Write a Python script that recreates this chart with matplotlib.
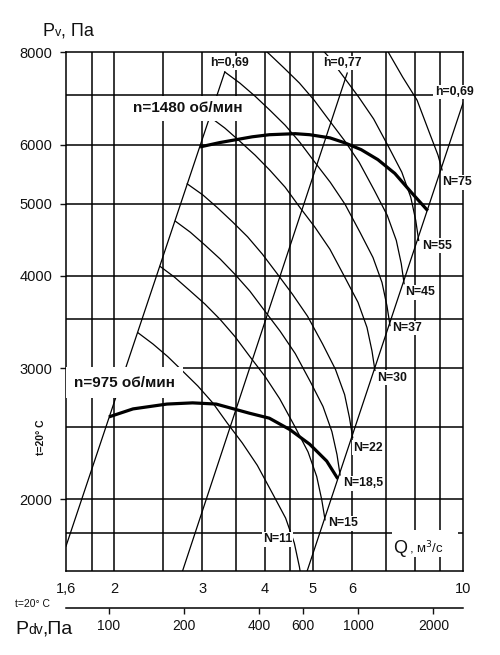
import matplotlib

matplotlib.use("Agg")

import matplotlib.pyplot as plt
from matplotlib.patches import Rectangle
from matplotlib.ticker import NullLocator

plt.rcParams["font.family"] = ["Liberation Sans", "DejaVu Sans"]

# axis ranges, grid and tick values
q_range = (1.6, 10.0)
p_range = (1600, 8000)
q_grid = [1.8, 2, 2.5, 3, 3.5, 4, 4.5, 5, 6, 7, 8, 9]
p_grid = [1800, 2000, 2500, 3000, 3500, 4000, 5000, 6000, 7000]
q_ticks = [1.6, 2, 3, 4, 5, 6, 10]
q_tick_labels = ["1,6", "2", "3", "4", "5", "6", "10"]
p_ticks = [2000, 3000, 4000, 5000, 6000, 8000]
pdv_ticks = [100, 200, 400, 600, 1000, 2000]
pdv_coef = 26.3  # dynamic pressure Pdv = coef * Q^2

# fan characteristics (thick)
q_1480 = [2.97, 3.25, 3.78, 4.09, 4.61, 4.93, 5.41, 5.78, 6.25, 6.75, 7.30, 7.89, 8.50]
p_1480 = [5960, 6040, 6150, 6190, 6210, 6190, 6130, 6040, 5910, 5730, 5490, 5170, 4890]
q_975 = [1.95, 2.18, 2.55, 2.87, 3.20, 3.73, 4.09, 4.50, 4.93, 5.33, 5.61]
p_975 = [2580, 2645, 2685, 2695, 2685, 2610, 2570, 2480, 2370, 2250, 2130]

# efficiency boundary lines
q_eta_left = [1.60, 3.33]
p_eta_left = [1728, 7520]
q_eta_mid = [2.74, 5.86]
p_eta_mid = [1600, 7495]
q_eta_right = [4.87, 10.0]
p_eta_right = [1600, 6830]

# constant power curves
q_n75 = [7.08, 7.57, 8.09, 8.57, 8.91, 9.08]
p_n75 = [8000, 7400, 6890, 6220, 5810, 5550]
q_n55 = [5.02, 5.38, 5.77, 6.18, 6.62, 7.10, 7.54, 7.86, 8.04, 8.15]
p_n55 = [8300, 7880, 7400, 6955, 6500, 5955, 5510, 5095, 4745, 4460]
q_n45 = [3.81, 4.09, 4.38, 4.70, 5.03, 5.39, 5.78, 6.19, 6.64, 7.05, 7.35, 7.52, 7.62]
p_n45 = [8280, 7950, 7610, 7265, 6890, 6475, 6085, 5685, 5210, 4820, 4460, 4150, 3900]
q_n37 = [3.33, 3.57, 3.83, 4.10, 4.40, 4.71, 5.05, 5.42, 5.80, 6.22, 6.60, 6.88, 7.04, 7.14]
p_n37 = [7520, 7265, 6975, 6680, 6375, 6045, 5680, 5340, 4990, 4570, 4230, 3915, 3640, 3425]
q_n30 = [3.11, 3.33, 3.57, 3.83, 4.10, 4.40, 4.71, 5.05, 5.41, 5.80, 6.16, 6.42, 6.57, 6.66]
p_n30 = [6540, 6320, 6065, 5810, 5545, 5260, 4940, 4645, 4340, 3975, 3680, 3405, 3165, 2980]
q_n22 = [2.80, 3.01, 3.22, 3.45, 3.70, 3.96, 4.25, 4.55, 4.88, 5.23, 5.55, 5.79, 5.92, 6.01]
p_n22 = [5315, 5135, 4935, 4725, 4510, 4275, 4015, 3775, 3525, 3235, 2990, 2765, 2575, 2420]
q_n18 = [2.65, 2.84, 3.04, 3.26, 3.49, 3.74, 4.01, 4.30, 4.61, 4.94, 5.24, 5.46, 5.59, 5.67]
p_n18 = [4735, 4575, 4395, 4210, 4015, 3810, 3580, 3365, 3140, 2880, 2665, 2465, 2295, 2155]
q_n15 = [2.47, 2.64, 2.83, 3.04, 3.26, 3.49, 3.74, 4.01, 4.29, 4.60, 4.89, 5.09, 5.21, 5.29]
p_n15 = [4115, 3980, 3820, 3660, 3490, 3310, 3110, 2925, 2730, 2505, 2315, 2145, 1995, 1875]
q_n11 = [2.23, 2.39, 2.56, 2.74, 2.94, 3.15, 3.37, 3.61, 3.87, 4.15, 4.41, 4.59, 4.70, 4.77]
p_n11 = [3350, 3235, 3110, 2975, 2840, 2695, 2530, 2380, 2220, 2035, 1885, 1745, 1620, 1525]

power_labels = ["N=75", "N=55", "N=45", "N=37", "N=30", "N=22", "N=18,5", "N=15", "N=11"]

W, H = 500, 655
L, R, T, B = 66, 463, 52, 571
INK = "#111111"

fig = plt.figure(figsize=(W / 100, H / 100), dpi=100)
ax = fig.add_axes([L / W, 1 - B / H, (R - L) / W, (B - T) / H])
ax.set_xscale("log")
ax.set_yscale("log")
ax.set_xlim(*q_range)
ax.set_ylim(*p_range)

for q in q_grid:
    ax.axvline(q, color="black", lw=1.1, zorder=1)
for p in p_grid:
    ax.axhline(p, color="black", lw=1.1, zorder=1)
for s in ax.spines.values():
    s.set_linewidth(1.1)

ax.xaxis.set_minor_locator(NullLocator())
ax.yaxis.set_minor_locator(NullLocator())
ax.set_xticks(q_ticks, q_tick_labels)
ax.set_yticks(p_ticks, [str(p) for p in p_ticks])
ax.tick_params(axis="x", length=0, pad=8, labelsize=10.5, colors=INK)
ax.tick_params(axis="y", length=4, width=1, pad=6, labelsize=10.5, colors=INK)

# dynamic pressure scale under the Q axis
sec = ax.secondary_xaxis(
    -(608 - B) / (B - T),
    functions=(lambda q: pdv_coef * q ** 2, lambda p: (p / pdv_coef) ** 0.5),
)
sec.xaxis.set_minor_locator(NullLocator())
sec.set_xticks(pdv_ticks, [str(p) for p in pdv_ticks])
sec.tick_params(length=4, width=1, pad=4, labelsize=10, colors=INK)
sec.spines["bottom"].set_linewidth(1.1)

# curves
thin = dict(color="black", lw=0.9, zorder=3, solid_joinstyle="round")
for qs, ps in [(q_eta_left, p_eta_left), (q_eta_mid, p_eta_mid), (q_eta_right, p_eta_right)]:
    ax.plot(qs, ps, **thin)
power_curves = [(q_n75, p_n75), (q_n55, p_n55), (q_n45, p_n45), (q_n37, p_n37), (q_n30, p_n30),
                (q_n22, p_n22), (q_n18, p_n18), (q_n15, p_n15), (q_n11, p_n11)]
for qs, ps in power_curves:
    ax.plot(qs, ps, **thin)
ax.plot(q_1480, p_1480, color="black", lw=2.3, zorder=4, solid_capstyle="butt")
ax.plot(q_975, p_975, color="black", lw=2.3, zorder=4, solid_capstyle="butt")

box = dict(facecolor="white", edgecolor="none", pad=1.0)

# N labels (left edge, vertical centre)
label_pos = [(9.08, 5340), (8.28, 4390), (7.65, 3795), (7.21, 3400), (6.72, 2915),
             (6.02, 2345), (5.75, 2100), (5.36, 1855), (3.97, 1765)]
for text, (q, p) in zip(power_labels, label_pos):
    ax.text(q, p, text, ha="left", va="center", fontsize=8.8, fontweight="bold",
            color=INK, bbox=box, zorder=6)

for q, p, text in [(3.40, 7730, "h=0,69"), (5.72, 7730, "h=0,77"), (9.6, 7066, "h=0,69")]:
    ax.text(q, p, text, ha="center", va="center", fontsize=8.8, fontweight="bold",
            color=INK, bbox=box, zorder=6, clip_on=False)

ax.text(2.18, 6720, "n=1480 об/мин", ha="left", va="center", fontsize=11, fontweight="bold",
        color=INK, bbox=dict(facecolor="white", edgecolor="none", pad=4), zorder=6)
ax.text(1.66, 2868, "n=975 об/мин", ha="left", va="center", fontsize=11, fontweight="bold",
        color=INK, bbox=dict(facecolor="white", edgecolor="none", pad=6), zorder=6)

# Q axis title inside the plot, on a white patch that cuts the grid lines
fig.add_artist(Rectangle((392 / W, 1 - 557 / H), 66 / W, 27 / H, transform=fig.transFigure,
                         facecolor="white", edgecolor="none", zorder=5))
fig.text(393 / W, 1 - 553 / H, "Q", fontsize=13, color=INK, va="baseline", zorder=6)
fig.text(409 / W, 1 - 553 / H, ", м$^3$/с", fontsize=9.5, color=INK, va="baseline", zorder=6)

# axis titles
fig.text(43 / W, 1 - 36 / H, "P", fontsize=13, color=INK, va="baseline")
fig.text(55 / W, 1 - 36 / H, "v", fontsize=9, color=INK, va="baseline")
fig.text(61 / W, 1 - 36 / H, ", Па", fontsize=13, color=INK, va="baseline")

fig.text(15 / W, 1 - 634 / H, "P", fontsize=14, color=INK, va="baseline")
fig.text(28 / W, 1 - 634 / H, "dv", fontsize=10, color=INK, va="baseline")
fig.text(42 / W, 1 - 634 / H, ",Па", fontsize=14, color=INK, va="baseline")

fig.text(15 / W, 1 - 604 / H, "t=20° C", fontsize=7.5, color=INK, va="center")
fig.text(41 / W, 1 - 437 / H, "t=20° C", fontsize=7.5, fontweight="bold", color=INK,
         rotation=90, ha="center", va="center")

fig.savefig("out.png", dpi=100, facecolor="white")
